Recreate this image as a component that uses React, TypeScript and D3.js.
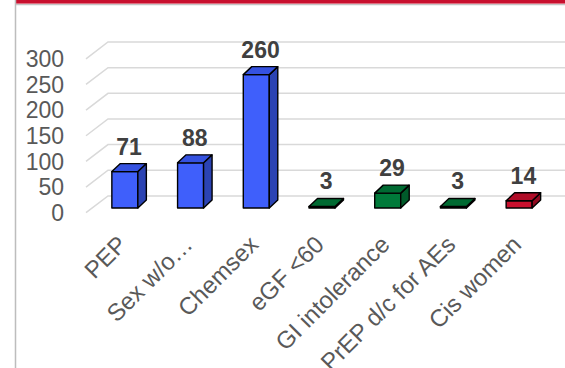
import { useEffect, useRef } from "react";
import * as d3 from "d3";

const categories = [
  "PEP",
  "Sex w/o…",
  "Chemsex",
  "eGF <60",
  "GI intolerance",
  "PrEP d/c for AEs",
  "Cis women",
];
const values = [71, 88, 260, 3, 29, 3, 14];
const groups = ["a", "a", "a", "b", "b", "b", "c"];
const yTicks = [0, 50, 100, 150, 200, 250, 300];

const palette: Record<string, { front: string; side: string; top: string }> = {
  a: { front: "#3F5FFB", side: "#2B43B3", top: "#3552E0" },
  b: { front: "#007A3A", side: "#005A2A", top: "#006A32" },
  c: { front: "#C8102E", side: "#900A20", top: "#B00D28" },
};

const FONT = "'Liberation Sans', Arial, sans-serif";

export default function App() {
  const svgRef = useRef<SVGSVGElement>(null);

  useEffect(() => {
    const el = svgRef.current;
    if (!el) return;
    d3.select(el).selectAll("*").remove();

    const W = 565;
    const H = 368;
    const svg = d3.select(el).attr("viewBox", `0 0 ${W} ${H}`);

    svg.append("rect").attr("width", W).attr("height", H).attr("fill", "#fff");

    // frame: red title band + grey borders
    svg
      .append("rect")
      .attr("x", 16)
      .attr("y", 0)
      .attr("width", W - 16)
      .attr("height", 3.6)
      .attr("fill", "#C8102E");
    svg
      .append("line")
      .attr("x1", 16)
      .attr("x2", W)
      .attr("y1", 4.6)
      .attr("y2", 4.6)
      .attr("stroke", "#C4C4C4")
      .attr("stroke-width", 1.2);
    svg
      .append("line")
      .attr("x1", 15.5)
      .attr("x2", 15.5)
      .attr("y1", 0)
      .attr("y2", H)
      .attr("stroke", "#BDBDBD")
      .attr("stroke-width", 1.5);

    const ys = d3.scaleLinear().domain([0, 300]).range([212.7, 58.8]);
    const xs = d3.scaleBand<string>().domain(categories).range([92, 552]).padding(0);

    // 3d offsets
    const gdx = 22;
    const gdy = -16.8;
    const barLift = 4.7;
    const bdx = 8.5;
    const bdy = -8;
    const bw = 26;

    // Grid (back wall + side floor diagonal)
    svg
      .selectAll(".grid")
      .data(yTicks)
      .enter()
      .append("path")
      .attr("fill", "none")
      .attr("stroke", "#D9D9D9")
      .attr("stroke-width", 1.5)
      .attr(
        "d",
        (d) =>
          `M86,${ys(d)}L${86 + gdx},${ys(d) + gdy}L${W},${ys(d) + gdy}`,
      );

    // Y tick labels
    svg
      .selectAll(".ytick")
      .data(yTicks)
      .enter()
      .append("text")
      .attr("x", 64)
      .attr("y", (d) => ys(d))
      .attr("dy", "0.36em")
      .attr("text-anchor", "end")
      .attr("fill", "#595959")
      .style("font-size", "23px")
      .style("font-family", FONT)
      .text((d) => d);

    // Bars
    const bars = svg
      .selectAll(".bar")
      .data(categories.map((c, i) => ({ c, v: values[i], g: groups[i] })))
      .enter()
      .append("g");

    bars.each(function (d) {
      const g = d3.select(this);
      const cx = (xs(d.c) as number) + xs.bandwidth() / 2;
      const x0 = cx - bw / 2;
      const x1 = cx + bw / 2;
      const yb = ys(0) - barLift;
      const yt = ys(d.v) - barLift;
      const col = palette[d.g];
      const st = (s: d3.Selection<any, any, any, any>) =>
        s
          .attr("stroke", "#000")
          .attr("stroke-width", 1.4)
          .attr("stroke-linejoin", "round");

      g.append("rect")
        .attr("x", x0)
        .attr("y", yt)
        .attr("width", bw)
        .attr("height", yb - yt)
        .attr("fill", col.front)
        .call(st);
      g.append("path")
        .attr(
          "d",
          `M${x1},${yb}L${x1 + bdx},${yb + bdy}L${x1 + bdx},${yt + bdy}L${x1},${yt}Z`,
        )
        .attr("fill", col.side)
        .call(st);
      g.append("path")
        .attr(
          "d",
          `M${x0},${yt}L${x0 + bdx},${yt + bdy}L${x1 + bdx},${yt + bdy}L${x1},${yt}Z`,
        )
        .attr("fill", col.top)
        .call(st);

      g.append("text")
        .attr("x", cx + bdx / 2)
        .attr("y", yt + bdy - 9)
        .attr("text-anchor", "middle")
        .attr("fill", "#404040")
        .style("font-size", "23px")
        .style("font-weight", "bold")
        .style("font-family", FONT)
        .text(d.v);
    });

    // X labels
    svg
      .selectAll(".xlab")
      .data(categories)
      .enter()
      .append("text")
      .attr(
        "transform",
        (d) =>
          `translate(${(xs(d) as number) + xs.bandwidth() / 2 + 3.5},246) rotate(-45)`,
      )
      .attr("text-anchor", "end")
      .attr("fill", "#595959")
      .style("font-size", "24px")
      .style("font-family", FONT)
      .text((d) => d);
  }, []);

  return (
    <svg
      ref={svgRef}
      width={565}
      height={368}
      style={{ position: "fixed", left: 0, top: 0, display: "block" }}
    />
  );
}
